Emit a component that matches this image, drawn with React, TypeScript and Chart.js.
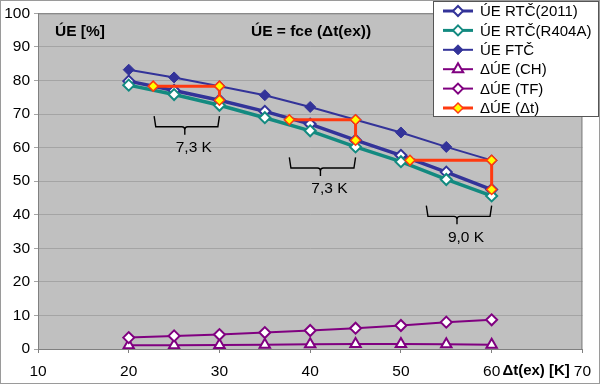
import React, { useEffect, useRef } from "react";
import { Chart, registerables } from "chart.js";

Chart.register(...registerables);

// ---- data ----
const xValues = [20, 25, 30, 35, 40, 45, 50, 55, 60];
const rtc2011 = [79.8, 77.0, 74.1, 70.8, 67.0, 62.2, 57.7, 52.7, 47.5];
const rtcR404A = [78.6, 75.8, 72.6, 68.9, 65.0, 60.2, 55.8, 50.5, 45.6];
const ftc = [83.2, 80.9, 78.3, 75.6, 72.1, 68.3, 64.5, 60.2, 56.2];
const deltaCH = [1.1, 1.1, 1.2, 1.3, 1.4, 1.5, 1.5, 1.4, 1.3];
const deltaTF = [3.4, 3.9, 4.3, 4.9, 5.5, 6.2, 7.0, 8.0, 8.7];
const deltaDtX = [22.7, 30, 30, null, 37.7, 45, 45, null, 51, 60, 60];
const deltaDtY = [78.3, 78.3, 74.1, null, 68.3, 68.3, 62.2, null, 56.2, 56.2, 47.5];
const seriesLabels = ["ÚE RTČ(2011)", "ÚE RTČ(R404A)", "ÚE FTČ", "ΔÚE (CH)", "ΔÚE (TF)", "ΔÚE (Δt)"];
const bracketStart = [22.8, 37.7, 52.8];
const bracketEnd = [30, 45, 60];
const bracketTop = [69.4, 57.1, 42.7];
const bracketLabels = ["7,3 K", "7,3 K", "9,0 K"];
const yAxisText = "ÚE [%]";
const chartTitle = "ÚE = fce (Δt(ex))";
const xAxisText = "Δt(ex) [K]";

const NAVY = "#333399";
const TEAL = "#138a80";
const PURPLE = "#800080";
const RED = "#ff3a10";
const YELLOW = "#ffff00";
const FONT = "'Liberation Sans', Arial, sans-serif";

function pts(xs: (number | null)[], ys: (number | null)[]) {
  return xs.map((x, i) => ({ x: x as any, y: ys[i] as any }));
}

function drawMarker(ctx: CanvasRenderingContext2D, style: string, x: number, y: number, r: number, fill: string, stroke: string, bw: number) {
  ctx.beginPath();
  if (style === "triangle") {
    ctx.moveTo(x, y - r);
    ctx.lineTo(x + r * 0.866, y + r * 0.5);
    ctx.lineTo(x - r * 0.866, y + r * 0.5);
    ctx.closePath();
  } else {
    ctx.moveTo(x, y - r);
    ctx.lineTo(x + r, y);
    ctx.lineTo(x, y + r);
    ctx.lineTo(x - r, y);
    ctx.closePath();
  }
  ctx.fillStyle = fill;
  ctx.fill();
  ctx.lineWidth = bw;
  ctx.strokeStyle = stroke;
  ctx.stroke();
}

const bgPlugin = {
  id: "bgPlugin",
  beforeDraw(chart: any) {
    const { ctx, chartArea: a } = chart;
    ctx.save();
    ctx.fillStyle = "#ffffff";
    ctx.fillRect(0, 0, chart.width, chart.height);
    ctx.fillStyle = "#c0c0c0";
    ctx.fillRect(a.left, a.top, a.right - a.left, a.bottom - a.top);
    ctx.restore();
  },
};

const overlayPlugin = {
  id: "overlayPlugin",
  afterDraw(chart: any) {
    const { ctx, chartArea: a } = chart;
    const xs = chart.scales.x;
    const ys = chart.scales.y;
    ctx.save();
    // plot border
    ctx.strokeStyle = "#808080";
    ctx.lineWidth = 1;
    ctx.strokeRect(a.left + 0.5, a.top + 0.5, a.right - a.left - 1, a.bottom - a.top);

    // in-plot texts
    ctx.fillStyle = "#000";
    ctx.font = `bold 15.5px ${FONT}`;
    ctx.textBaseline = "middle";
    ctx.textAlign = "left";
    ctx.fillText(yAxisText, a.left + 17, a.top + 18);
    ctx.fillText(chartTitle, a.left + 213, a.top + 18);

    // x axis title
    ctx.font = `bold 15px ${FONT}`;
    ctx.textAlign = "center";
    ctx.fillText(xAxisText, xs.getPixelForValue(64.9), a.bottom + 22);

    // brackets
    ctx.strokeStyle = "#000";
    ctx.lineWidth = 1.4;
    ctx.font = `15.5px ${FONT}`;
    for (let i = 0; i < bracketStart.length; i++) {
      const x1 = xs.getPixelForValue(bracketStart[i]);
      const x2 = xs.getPixelForValue(bracketEnd[i]);
      const yt = ys.getPixelForValue(bracketTop[i]);
      const yh = yt + 10.7;
      const xm = (x1 + x2) / 2 - 2;
      ctx.beginPath();
      ctx.moveTo(x1, yt);
      ctx.lineTo(x1 + 1.6, yh);
      ctx.lineTo(xm - 3, yh);
      ctx.quadraticCurveTo(xm, yh, xm, yh + 3);
      ctx.lineTo(xm, yh + 8);
      ctx.moveTo(xm, yh + 3);
      ctx.quadraticCurveTo(xm, yh, xm + 3, yh);
      ctx.lineTo(x2 - 1.6, yh);
      ctx.lineTo(x2, yt);
      ctx.stroke();
      ctx.fillStyle = "#000";
      ctx.textAlign = "center";
      ctx.fillText(bracketLabels[i], xm + 9, yh + 21);
    }

    // legend
    const lx = 433, ly = 1, lw = 165, lh = 115;
    ctx.fillStyle = "#ffffff";
    ctx.fillRect(lx, ly, lw, lh);
    ctx.strokeStyle = "#555";
    ctx.lineWidth = 1;
    ctx.strokeRect(lx + 0.5, ly + 0.5, lw, lh);
    ctx.font = `15px ${FONT}`;
    ctx.textAlign = "left";
    ctx.textBaseline = "middle";
    chart.data.datasets.forEach((ds: any, i: number) => {
      const cy = 11 + i * 19.4;
      ctx.strokeStyle = ds.borderColor;
      ctx.lineWidth = Math.min(ds.borderWidth, 3);
      ctx.beginPath();
      ctx.moveTo(443, cy);
      ctx.lineTo(473, cy);
      ctx.stroke();
      drawMarker(ctx, ds.pointStyle, 458, cy, ds.pointStyle === "triangle" ? 6 : 5, ds.pointBackgroundColor, ds.pointBorderColor, ds.pointBorderWidth);
      ctx.fillStyle = "#000";
      ctx.fillText(ds.label, 480, cy + 1);
    });

    // outer border
    ctx.strokeStyle = "#9a9a9a";
    ctx.lineWidth = 1;
    ctx.strokeRect(0.5, 0.5, chart.width - 1, chart.height - 1);
    ctx.restore();
  },
};

export default function App() {
  const ref = useRef<HTMLCanvasElement>(null);
  useEffect(() => {
    document.body.style.margin = "0";
    const canvas = ref.current!;
    const chart = new Chart(canvas, {
      type: "line",
      data: {
        datasets: [
          {
            label: seriesLabels[0],
            data: pts(xValues, rtc2011),
            borderColor: NAVY,
            borderWidth: 3.5,
            pointStyle: "rectRot",
            pointRadius: 5.5,
            pointBackgroundColor: "#ffffff",
            pointBorderColor: NAVY,
            pointBorderWidth: 2,
            order: 6,
          },
          {
            label: seriesLabels[1],
            data: pts(xValues, rtcR404A),
            borderColor: TEAL,
            borderWidth: 3.5,
            pointStyle: "rectRot",
            pointRadius: 5.5,
            pointBackgroundColor: "#ffffff",
            pointBorderColor: TEAL,
            pointBorderWidth: 2,
            order: 5,
          },
          {
            label: seriesLabels[2],
            data: pts(xValues, ftc),
            borderColor: NAVY,
            borderWidth: 2,
            pointStyle: "rectRot",
            pointRadius: 5.5,
            pointBackgroundColor: NAVY,
            pointBorderColor: NAVY,
            pointBorderWidth: 1,
            order: 4,
          },
          {
            label: seriesLabels[3],
            data: pts(xValues, deltaCH),
            borderColor: PURPLE,
            borderWidth: 2,
            pointStyle: "triangle",
            pointRadius: 6,
            pointBackgroundColor: "#ffffff",
            pointBorderColor: PURPLE,
            pointBorderWidth: 2,
            order: 3,
          },
          {
            label: seriesLabels[4],
            data: pts(xValues, deltaTF),
            borderColor: PURPLE,
            borderWidth: 2,
            pointStyle: "rectRot",
            pointRadius: 5.5,
            pointBackgroundColor: "#ffffff",
            pointBorderColor: PURPLE,
            pointBorderWidth: 2,
            order: 2,
          },
          {
            label: seriesLabels[5],
            data: pts(deltaDtX, deltaDtY),
            borderColor: RED,
            borderWidth: 3,
            pointStyle: "rectRot",
            pointRadius: 5,
            pointBackgroundColor: YELLOW,
            pointBorderColor: RED,
            pointBorderWidth: 1.5,
            spanGaps: false,
            order: 1,
          },
        ] as any,
      },
      options: {
        animation: false,
        responsive: false,
        devicePixelRatio: 1,
        layout: { padding: { top: 12, right: 10, left: 0, bottom: 0 } },
        elements: { line: { tension: 0 } },
        plugins: {
          legend: { display: false },
          tooltip: { enabled: false },
          title: { display: false },
        },
        scales: {
          x: {
            type: "linear",
            min: 10,
            max: 70,
            ticks: {
              stepSize: 10,
              color: "#000",
              font: { family: FONT, size: 15.5 },
              padding: 9,
              maxRotation: 0,
            },
            grid: { drawOnChartArea: false, drawTicks: true, tickLength: 4, color: "#808080" },
            border: { display: true, color: "#808080" },
            afterFit: (s: any) => {
              s.height = 35;
            },
          },
          y: {
            min: 0,
            max: 100,
            ticks: {
              stepSize: 10,
              color: "#000",
              font: { family: FONT, size: 15.5 },
              padding: 4,
            },
            grid: { color: "#a4a4a4", drawTicks: true, tickLength: 4 },
            border: { display: true, color: "#808080" },
            afterFit: (s: any) => {
              s.width = 38;
            },
          },
        },
      } as any,
      plugins: [bgPlugin, overlayPlugin],
    });
    return () => chart.destroy();
  }, []);
  return (
    <div style={{ width: 600, height: 384 }}>
      <canvas ref={ref} width={600} height={384} style={{ display: "block" }} />
    </div>
  );
}
